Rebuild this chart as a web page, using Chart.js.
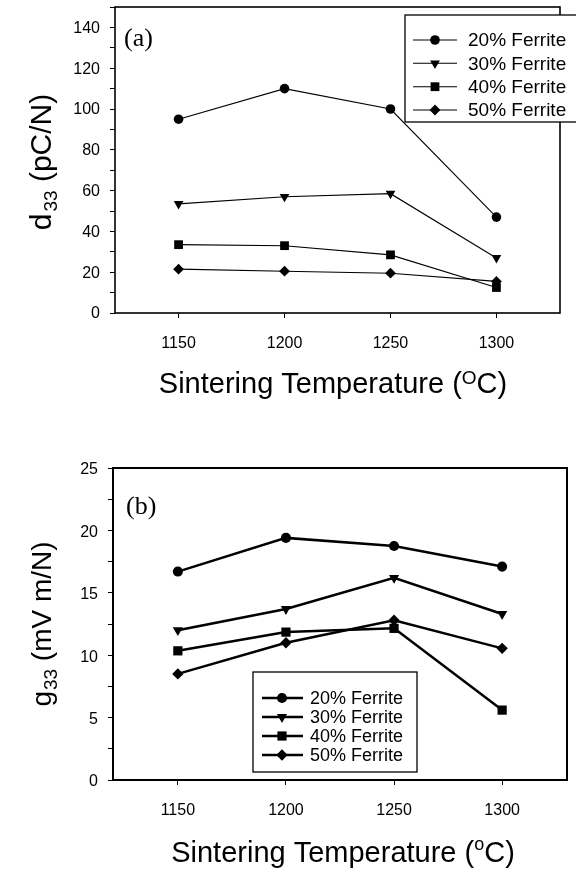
<!DOCTYPE html>
<html><head><meta charset="utf-8">
<script src="https://cdn.jsdelivr.net/npm/chart.js@4/dist/chart.umd.min.js"></script>
<style>
html,body{margin:0;padding:0;background:#fff;}
#wrap{position:relative;width:576px;height:874px;background:#fff;}
.box{position:absolute;left:0;width:576px;height:437px;}
</style></head><body>
<div id="wrap">
<div class="box" style="top:0"><canvas id="c1"></canvas></div>
<div class="box" style="top:437px"><canvas id="c2"></canvas></div>
</div>
<script>
// ---- data ----
const temperatures = [1150, 1200, 1250, 1300];
const seriesNames = ['20% Ferrite', '30% Ferrite', '40% Ferrite', '50% Ferrite'];
const d33_20 = [95, 110, 100, 47];
const d33_30 = [53.5, 57, 58.5, 27];
const d33_40 = [33.5, 33, 28.5, 12.5];
const d33_50 = [21.5, 20.5, 19.5, 15.5];
const g33_20 = [16.7, 19.4, 18.75, 17.1];
const g33_30 = [12.0, 13.7, 16.2, 13.3];
const g33_40 = [10.35, 11.85, 12.15, 5.6];
const g33_50 = [8.5, 11.0, 12.8, 10.55];
const d33TickLabels = [0, 20, 40, 60, 80, 100, 120, 140];
const g33TickLabels = [0, 5, 10, 15, 20, 25];

const markerStyles = [
  {pointStyle: 'circle', rotation: 0, r: 4.8},
  {pointStyle: 'triangle', rotation: 180, r: 5.6},
  {pointStyle: 'rect', rotation: 0, r: 6.2},
  {pointStyle: 'rectRot', rotation: 0, r: 5.4}
];

const SANS = '"Liberation Sans", Arial, sans-serif';
const SERIF = '"Liberation Serif", "Times New Roman", serif';

function makeChart(id, cfg) {
  const H = 437;
  const A = cfg.area;
  const datasets = cfg.series.map((arr, i) => ({
    label: seriesNames[i],
    data: temperatures.map((t, j) => ({x: t, y: arr[j]})),
    borderColor: '#000',
    backgroundColor: '#000',
    borderWidth: cfg.lineWidth,
    pointStyle: markerStyles[i].pointStyle,
    pointRotation: markerStyles[i].rotation,
    pointRadius: markerStyles[i].r * cfg.markerScale,
    pointBorderWidth: 0,
    pointBackgroundColor: '#000',
    tension: 0,
    fill: false
  }));

  const decor = {
    id: 'decor' + id,
    afterDraw(chart) {
      const ctx = chart.ctx;
      const ca = chart.chartArea;
      ctx.save();
      // frame
      ctx.strokeStyle = '#000';
      ctx.lineWidth = cfg.frameWidth;
      ctx.strokeRect(ca.left, ca.top, ca.right - ca.left, ca.bottom - ca.top);
      // panel label
      ctx.fillStyle = '#000';
      ctx.font = '26px ' + SERIF;
      ctx.textBaseline = 'alphabetic';
      ctx.textAlign = 'left';
      ctx.fillText(cfg.panel.text, cfg.panel.x, cfg.panel.y);
      // legend
      const L = cfg.legend;
      ctx.fillStyle = '#fff';
      ctx.fillRect(L.x, L.y, L.w, L.h);
      ctx.lineWidth = 1.3;
      ctx.strokeStyle = '#000';
      ctx.strokeRect(L.x, L.y, L.w, L.h);
      ctx.font = L.font + 'px ' + SANS;
      ctx.textBaseline = 'middle';
      seriesNames.forEach((name, i) => {
        const yy = L.rows[i];
        ctx.strokeStyle = '#000';
        ctx.lineWidth = cfg.lineWidth;
        ctx.beginPath();
        ctx.moveTo(L.lx0, yy); ctx.lineTo(L.lx1, yy); ctx.stroke();
        ctx.fillStyle = '#000';
        Chart.helpers.drawPoint(ctx, {
          pointStyle: markerStyles[i].pointStyle,
          rotation: markerStyles[i].rotation,
          radius: markerStyles[i].r * cfg.markerScale,
          borderWidth: 0
        }, L.mx, yy);
        ctx.fillStyle = '#000';
        ctx.fillText(name, L.tx, yy + 1);
      });
      // x title
      ctx.textBaseline = 'alphabetic';
      ctx.fillStyle = '#000';
      const XT = cfg.xTitle;
      const f1 = XT.size + 'px ' + SANS, f2 = XT.supSize + 'px ' + SANS;
      ctx.font = f1; const wA = ctx.measureText('Sintering Temperature (').width;
      const wC = ctx.measureText('C)').width;
      ctx.font = f2; const wS = ctx.measureText(XT.sup).width;
      const tot = wA + wS + wC;
      let x0 = XT.cx - tot / 2;
      ctx.font = f1; ctx.fillText('Sintering Temperature (', x0, XT.y);
      ctx.font = f2; ctx.fillText(XT.sup, x0 + wA, XT.y - XT.supRaise);
      ctx.font = f1; ctx.fillText('C)', x0 + wA + wS, XT.y);
      // y title
      const YT = cfg.yTitle;
      ctx.translate(YT.x, (ca.top + ca.bottom) / 2 + YT.dy);
      ctx.rotate(-Math.PI / 2);
      const g1 = YT.size + 'px ' + SANS, g2 = YT.subSize + 'px ' + SANS;
      ctx.font = g1; const wa = ctx.measureText(YT.main).width;
      const wr = ctx.measureText(YT.rest).width;
      ctx.font = g2; const ws = ctx.measureText('33').width;
      const t2 = wa + YT.gap + ws + wr;
      let s0 = -t2 / 2;
      ctx.font = g1; ctx.fillText(YT.main, s0, 0);
      ctx.font = g2; ctx.fillText('33', s0 + wa + YT.gap, YT.subDrop);
      ctx.font = g1; ctx.fillText(YT.rest, s0 + wa + YT.gap + ws, 0);
      ctx.restore();
    }
  };

  return new Chart(document.getElementById(id), {
    type: 'line',
    data: {datasets},
    options: {
      responsive: true,
      maintainAspectRatio: false,
      animation: false,
      events: [],
      layout: {padding: {left: 0, top: A.top, right: 576 - A.right, bottom: 0}},
      plugins: {legend: {display: false}, tooltip: {enabled: false}, title: {display: false}},
      scales: {
        x: {
          type: 'linear',
          min: 1120, max: 1330,
          afterBuildTicks: s => { s.ticks = temperatures.map(v => ({value: v})); },
          afterFit: s => { s.height = H - A.bottom; s.paddingLeft = 0; s.paddingRight = 0; },
          grid: {drawOnChartArea: false, drawTicks: true, tickLength: 5, color: '#000', lineWidth: 1},
          border: {display: false},
          ticks: {color: '#000', font: {family: SANS, size: 16}, padding: cfg.xTickPad,
                  maxRotation: 0, autoSkip: false, callback: v => String(v)}
        },
        y: {
          type: 'linear',
          min: 0, max: cfg.yMax,
          afterBuildTicks: s => {
            const t = [];
            for (let v = 0; v <= cfg.yMax + 1e-9; v += cfg.yMinor) t.push({value: v});
            s.ticks = t;
          },
          afterFit: s => { s.width = A.left; s.paddingTop = 0; s.paddingBottom = 0; },
          grid: {drawOnChartArea: false, drawTicks: true, tickLength: 5, color: '#000', lineWidth: 1},
          border: {display: false},
          ticks: {color: '#000', font: {family: SANS, size: 16}, padding: 10, autoSkip: false,
                  labelOffset: cfg.yLabelOffset,
                  callback: v => (cfg.yLabels.some(l => Math.abs(l - v) < 1e-6) ? String(v) : '')}
        }
      }
    },
    plugins: [decor]
  });
}

makeChart('c1', {
  area: {left: 115, top: 7, right: 560, bottom: 313},
  series: [d33_20, d33_30, d33_40, d33_50],
  yMax: 150, yMinor: 10, yLabels: d33TickLabels, yLabelOffset: 1,
  lineWidth: 1.1, markerScale: 1.0, frameWidth: 1.6, xTickPad: 16,
  panel: {text: '(a)', x: 124, y: 46},
  legend: {x: 405, y: 15, w: 180, h: 107, rows: [40, 63.3, 86.7, 110], lx0: 413, lx1: 457, mx: 435, tx: 468, font: 19},
  xTitle: {cx: 333, y: 393, size: 29, supSize: 19, sup: 'O', supRaise: 9},
  yTitle: {x: 51, dy: 2, size: 30, subSize: 19, main: 'd', rest: ' (pC/N)', gap: 2, subDrop: 6}
});

makeChart('c2', {
  area: {left: 113, top: 31, right: 567, bottom: 343},
  series: [g33_20, g33_30, g33_40, g33_50],
  yMax: 25, yMinor: 2.5, yLabels: g33TickLabels, yLabelOffset: 2,
  lineWidth: 2.5, markerScale: 1.05, frameWidth: 2, xTickPad: 16,
  panel: {text: '(b)', x: 126, y: 77},
  legend: {x: 253, y: 235, w: 164, h: 100, rows: [261, 280, 299, 318], lx0: 262, lx1: 303, mx: 282, tx: 310, font: 18},
  xTitle: {cx: 343, y: 425, size: 29, supSize: 18, sup: 'o', supRaise: 12},
  yTitle: {x: 51, dy: 0, size: 28, subSize: 19, main: 'g', rest: ' (mV m/N)', gap: 1, subDrop: 6}
});
</script>
</body></html>
